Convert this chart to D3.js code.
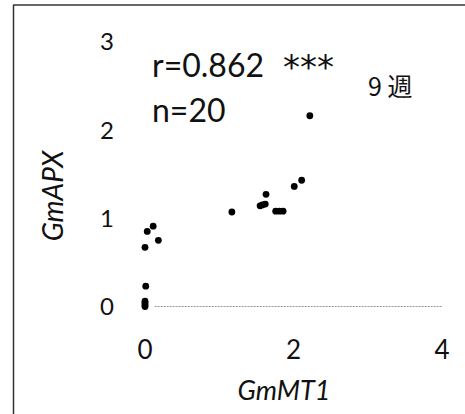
<!DOCTYPE html>
<html>
<head>
<meta charset="utf-8">
<script src="https://cdn.jsdelivr.net/npm/d3@7"></script>
<style>
  html, body { margin: 0; padding: 0; background: #fff; }
  svg { display: block; }
</style>
</head>
<body>
<svg id="chart"></svg>
<script>
// GmMT1 (x) vs GmAPX (y), 9 weeks, n = 20
const mt1Values = [0, 0, 0, 0, 0.01, 0, 0.03, 0.11, 0.18, 1.17,
                   1.55, 1.58, 1.62, 1.63, 1.76, 1.81, 1.86, 2.01, 2.11, 2.22];
const apxValues = [0.0, 0.02, 0.04, 0.06, 0.23, 0.67, 0.85, 0.91, 0.75, 1.07,
                   1.14, 1.15, 1.16, 1.27, 1.08, 1.08, 1.08, 1.36, 1.43, 2.16];
const xTicks = [0, 2, 4];
const yTicks = [0, 1, 2, 3];
const statLines = ["r=0.862", "n=20"];
const signif = "***";
const weekLabel = "9 週";
const xTitle = "GmMT1";
const yTitle = "GmAPX";

const width = 465, height = 414;

const svg = d3.select("#chart")
    .attr("width", width)
    .attr("height", height);

const x = d3.scaleLinear()
    .domain([0, 4])
    .range([145, 442]);

const y = d3.scaleLinear()
    .domain([0, 3])
    .range([306.5, 41.6]);

// frame (top + left edges only)
svg.append("line")
    .attr("x1", 13).attr("y1", 5).attr("x2", width).attr("y2", 5)
    .attr("stroke", "#333").attr("stroke-width", 1.5);
svg.append("line")
    .attr("x1", 13.5).attr("y1", 5).attr("x2", 13.5).attr("y2", height)
    .attr("stroke", "#333").attr("stroke-width", 1.5);

// dotted zero line
svg.append("line")
    .attr("x1", x(0.13)).attr("x2", x(4))
    .attr("y1", y(0)).attr("y2", y(0))
    .attr("stroke", "#999")
    .attr("stroke-width", 1)
    .attr("stroke-dasharray", "2,1");

// tick labels
svg.append("g")
    .selectAll("text")
    .data(yTicks)
    .join("text")
    .attr("x", 107)
    .attr("y", d => y(d))
    .attr("dy", "0.36em")
    .attr("text-anchor", "middle")
    .attr("font-family", "Lato, sans-serif")
    .attr("font-size", 24)
    .attr("fill", "#111")
    .text(d => d);

svg.append("g")
    .selectAll("text")
    .data(xTicks)
    .join("text")
    .attr("x", d => x(d))
    .attr("y", 359)
    .attr("text-anchor", "middle")
    .attr("font-family", "Lato, sans-serif")
    .attr("font-size", 26)
    .attr("fill", "#111")
    .text(d => d);

// axis titles
svg.append("text")
    .attr("x", 284)
    .attr("y", 400)
    .attr("text-anchor", "middle")
    .attr("font-family", "Lato, sans-serif")
    .attr("font-style", "italic")
    .attr("font-size", 27)
    .attr("fill", "#111")
    .text(xTitle);

svg.append("text")
    .attr("transform", "translate(63,196) rotate(-90)")
    .attr("text-anchor", "middle")
    .attr("font-family", "Lato, sans-serif")
    .attr("font-style", "italic")
    .attr("font-size", 28)
    .attr("fill", "#111")
    .text(yTitle);

// annotations
svg.append("g")
    .selectAll("text")
    .data(statLines)
    .join("text")
    .attr("x", 152)
    .attr("y", (d, i) => 77 + i * 45)
    .attr("font-family", "Lato, sans-serif")
    .attr("font-size", 32)
    .attr("fill", "#111")
    .text(d => d);

svg.append("text")
    .attr("x", 283)
    .attr("y", 79)
    .attr("font-family", "'DejaVu Sans', sans-serif")
    .attr("font-size", 34)
    .attr("fill", "#111")
    .text(signif);

svg.append("text")
    .attr("x", 368)
    .attr("y", 96)
    .attr("font-family", "'Noto Sans CJK JP', sans-serif")
    .attr("font-size", 25)
    .attr("fill", "#111")
    .text(weekLabel);

// points
svg.append("g")
    .selectAll("circle")
    .data(mt1Values.map((v, i) => [v, apxValues[i]]))
    .join("circle")
    .attr("cx", d => x(d[0]))
    .attr("cy", d => y(d[1]))
    .attr("r", 3.4)
    .attr("fill", "#000");
</script>
</body>
</html>
